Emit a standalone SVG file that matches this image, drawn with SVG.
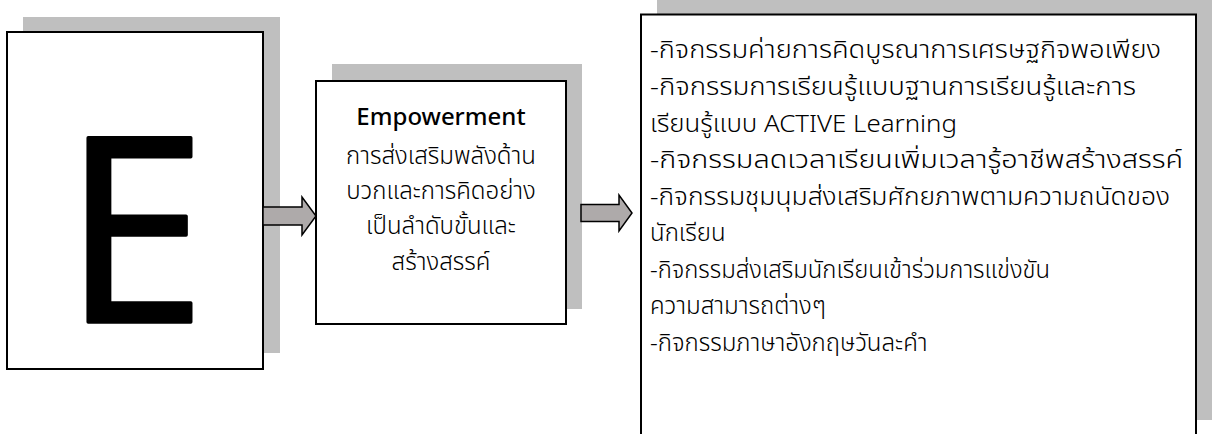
<svg xmlns="http://www.w3.org/2000/svg" width="1216" height="434" viewBox="0 0 1216 434">
<style>
.shadow{fill:#bfbfbf;stroke:none}
.box{fill:#ffffff;stroke:#000000;stroke-width:2}
.arrow{fill:#aeaaaa;stroke:#000000;stroke-width:1.5;stroke-linejoin:miter}
.t{font-family:"Noto Sans Thai","Noto Sans","Open Sans",sans-serif;font-size:24px;font-weight:300;fill:#000}
.c{text-anchor:middle}
</style>
<rect width="1216" height="434" fill="#ffffff"/>
<g id="node-e">
<rect class="shadow" x="23" y="17" width="257" height="336"/>
<rect class="box" x="7" y="32" width="256" height="337"/>
<text x="63" y="322" font-family="Open Sans, sans-serif" font-size="258" fill="#000" stroke="#000" stroke-width="3.5" stroke-linejoin="round">E</text>
</g>
<g id="node-empowerment">
<rect class="shadow" x="332" y="64" width="250" height="245"/>
<rect class="box" x="316" y="81" width="250" height="243"/>
<text class="t c" x="441" y="125" style="font-weight:500">Empowerment</text>
<text class="t c" x="441" y="164">การส่งเสริมพลังด้าน</text>
<text class="t c" x="441" y="199">บวกและการคิดอย่าง</text>
<text class="t c" x="441" y="234">เป็นลำดับขั้นและ</text>
<text class="t c" x="441" y="270">สร้างสรรค์</text>
</g>
<g id="node-activities">
<rect class="shadow" x="657" y="-2" width="555" height="422"/>
<rect class="box" x="641" y="14.5" width="555" height="422"/>
<text class="t" x="650" y="58" textLength="511" lengthAdjust="spacingAndGlyphs">-กิจกรรมค่ายการคิดบูรณาการเศรษฐกิจพอเพียง</text>
<text class="t" x="650" y="95" textLength="486" lengthAdjust="spacingAndGlyphs">-กิจกรรมการเรียนรู้แบบฐานการเรียนรู้และการ</text>
<text class="t" x="650" y="132" textLength="307" lengthAdjust="spacingAndGlyphs">เรียนรู้แบบ ACTIVE Learning</text>
<text class="t" x="650" y="168" textLength="533" lengthAdjust="spacingAndGlyphs">-กิจกรรมลดเวลาเรียนเพิ่มเวลารู้อาชีพสร้างสรรค์</text>
<text class="t" x="650" y="205" textLength="520" lengthAdjust="spacingAndGlyphs">-กิจกรรมชุมนุมส่งเสริมศักยภาพตามความถนัดของ</text>
<text class="t" x="650" y="241">นักเรียน</text>
<text class="t" x="650" y="278" textLength="400" lengthAdjust="spacingAndGlyphs">-กิจกรรมส่งเสริมนักเรียนเข้าร่วมการแข่งขัน</text>
<text class="t" x="650" y="314">ความสามารถต่างๆ</text>
<text class="t" x="650" y="351">-กิจกรรมภาษาอังกฤษวันละคำ</text>
</g>
<g id="connectors">
<path class="arrow" d="M263,207 L302,207 L302,197 L316,216 L302,235 L302,225 L263,225 Z"/>
<path class="arrow" d="M581,204.5 L619,204.5 L619,195 L632,213 L619,231 L619,221.5 L581,221.5 Z"/>
</g>
</svg>
